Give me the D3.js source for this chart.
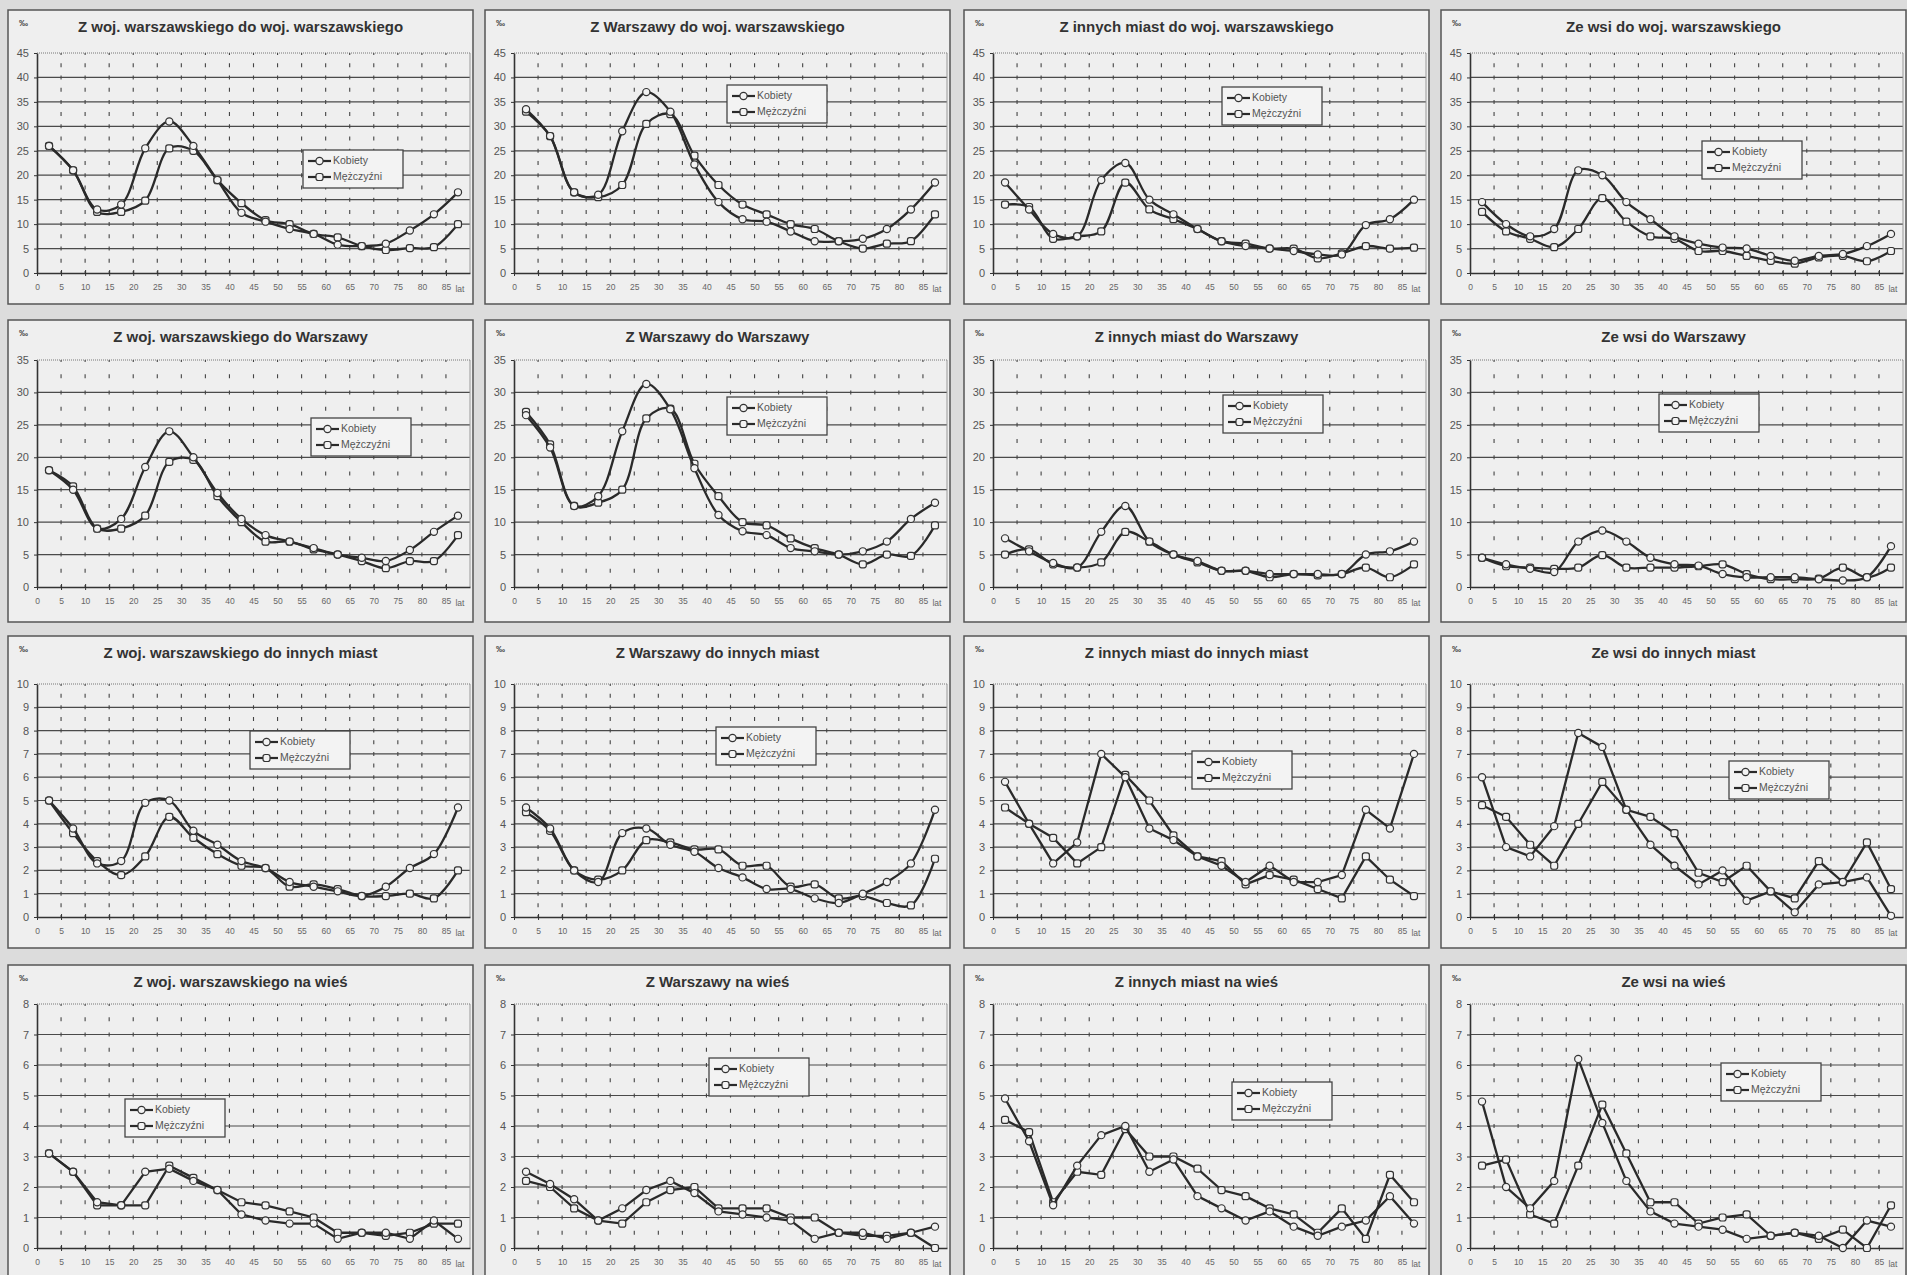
<!DOCTYPE html>
<html>
<head>
<meta charset="utf-8">
<script src="https://cdn.jsdelivr.net/npm/d3@7"></script>
<style>
  body { margin: 0; background: #dcdcdc; }
  svg { display: block; font-family: "Liberation Sans", Arial, sans-serif; }
</style>
</head>
<body>
<div id="chart"></div>
<script>
const ageLabels = ["0","5","10","15","20","25","30","35","40","45","50","55","60","65","70","75","80","85"];

const titles = [
  "Z woj. warszawskiego do woj. warszawskiego", "Z Warszawy do woj. warszawskiego",
  "Z innych miast do woj. warszawskiego", "Ze wsi do woj. warszawskiego",
  "Z woj. warszawskiego do Warszawy", "Z Warszawy do Warszawy",
  "Z innych miast do Warszawy", "Ze wsi do Warszawy",
  "Z woj. warszawskiego do innych miast", "Z Warszawy do innych miast",
  "Z innych miast do innych miast", "Ze wsi do innych miast",
  "Z woj. warszawskiego na wieś", "Z Warszawy na wieś",
  "Z innych miast na wieś", "Ze wsi na wieś"
];

const yMax  = [45, 45, 45, 45, 35, 35, 35, 35, 10, 10, 10, 10, 8, 8, 8, 8];
const yStep = [5, 5, 5, 5, 5, 5, 5, 5, 1, 1, 1, 1, 1, 1, 1, 1];

const kobiety = [
  [26, 21, 13, 14, 25.5, 31, 26, 19, 12.3, 10.5, 9, 8, 5.8, 5.5, 6, 8.7, 12, 16.5],
  [33.5, 28, 16.5, 16, 29, 37, 33, 22.2, 14.5, 11, 10.5, 8.5, 6.5, 6.5, 7, 9, 13, 18.5],
  [18.5, 13, 8, 7.5, 19, 22.5, 15, 12, 9, 6.5, 5.5, 5, 4.5, 3.8, 3.8, 9.8, 11, 15],
  [14.5, 10, 7.5, 9, 21, 20, 14.5, 11, 7.5, 6, 5.2, 5, 3.5, 2.5, 3.5, 3.9, 5.5, 8],
  [18, 15, 9, 10.5, 18.5, 24, 20, 14.5, 10.5, 8, 7, 6, 5, 4.5, 4, 5.7, 8.5, 11],
  [26.5, 21.5, 12.5, 14, 24, 31.3, 27.4, 18.3, 11.1, 8.6, 8, 6, 5.5, 5, 5.5, 7, 10.5, 13],
  [7.5, 5.5, 3.7, 3, 8.5, 12.5, 7, 5, 4, 2.5, 2.5, 2, 2, 2, 2, 5, 5.5, 7],
  [4.5, 3.5, 2.8, 2.3, 7, 8.7, 7, 4.5, 3.5, 3.3, 2, 1.5, 1.5, 1.5, 1.2, 1, 1.5, 6.3],
  [5.0, 3.8, 2.3, 2.4, 4.9, 5.0, 3.7, 3.1, 2.4, 2.1, 1.5, 1.3, 1.1, 0.9, 1.3, 2.1, 2.7, 4.7],
  [4.7, 3.8, 2.0, 1.5, 3.6, 3.8, 3.1, 2.8, 2.1, 1.7, 1.2, 1.2, 0.8, 0.6, 1.0, 1.5, 2.3, 4.6],
  [5.8, 4.0, 2.3, 3.2, 7.0, 6.0, 3.8, 3.3, 2.6, 2.2, 1.5, 2.2, 1.5, 1.5, 1.8, 4.6, 3.8, 7.0],
  [6.0, 3.0, 2.6, 3.9, 7.9, 7.3, 4.6, 3.1, 2.2, 1.4, 2.0, 0.7, 1.1, 0.2, 1.4, 1.5, 1.7, 0.05],
  [3.1, 2.5, 1.5, 1.4, 2.5, 2.6, 2.2, 1.9, 1.1, 0.9, 0.8, 0.8, 0.3, 0.5, 0.5, 0.3, 0.9, 0.3],
  [2.5, 2.1, 1.6, 0.9, 1.3, 1.9, 2.2, 1.8, 1.2, 1.1, 1.0, 0.9, 0.3, 0.5, 0.5, 0.3, 0.5, 0.7],
  [4.9, 3.5, 1.4, 2.7, 3.7, 4.0, 2.5, 2.9, 1.7, 1.3, 0.9, 1.2, 0.7, 0.4, 0.7, 0.9, 1.7, 0.8],
  [4.8, 2.0, 1.3, 2.2, 6.2, 4.1, 2.2, 1.2, 0.8, 0.7, 0.6, 0.3, 0.4, 0.5, 0.4, 0.0, 0.9, 0.7]
];

const mezczyzni = [
  [26, 21, 12.5, 12.5, 14.8, 25.5, 25, 19, 14.3, 10.8, 10, 8, 7.3, 5.5, 4.7, 5.1, 5.3, 10],
  [33, 28, 16.5, 15.5, 18, 30.5, 32.5, 24, 18, 14, 12, 10, 9, 6.5, 5, 6, 6.5, 12],
  [14, 13.5, 7, 7.5, 8.5, 18.5, 13, 11, 9, 6.5, 6, 5, 5, 3, 4, 5.5, 5, 5.2],
  [12.5, 8.5, 7, 5.3, 9, 15.3, 10.5, 7.5, 7, 4.5, 4.5, 3.5, 2.5, 1.9, 3.2, 3.5, 2.4, 4.5],
  [18, 15.5, 9, 9, 11, 19.3, 19.6, 14, 10, 7, 7, 5.8, 5, 4, 2.9, 4, 4, 8],
  [27, 22, 12.5, 13, 15, 26, 27.5, 19, 14, 10, 9.5, 7.5, 6, 5, 3.5, 5, 4.8, 9.5],
  [5, 5.8, 3.5, 3, 3.8, 8.5, 7, 5, 3.8, 2.5, 2.5, 1.5, 2, 1.8, 2, 3, 1.5, 3.5],
  [4.5, 3.2, 3, 2.8, 3, 4.9, 3, 3, 3, 3.2, 3.5, 2, 1.2, 1.2, 1.3, 3, 1.5, 3],
  [5.0, 3.6, 2.4, 1.8, 2.6, 4.3, 3.4, 2.7, 2.2, 2.1, 1.3, 1.4, 1.2, 0.9, 0.9, 1.0, 0.8, 2.0],
  [4.5, 3.7, 2.0, 1.6, 2.0, 3.3, 3.2, 2.9, 2.9, 2.2, 2.2, 1.3, 1.4, 0.8, 0.9, 0.6, 0.5, 2.5],
  [4.7, 4.0, 3.4, 2.3, 3.0, 6.1, 5.0, 3.5, 2.6, 2.4, 1.4, 1.8, 1.6, 1.2, 0.8, 2.6, 1.6, 0.9],
  [4.8, 4.3, 3.1, 2.2, 4.0, 5.8, 4.6, 4.3, 3.6, 1.9, 1.5, 2.2, 1.1, 0.8, 2.4, 1.5, 3.2, 1.2],
  [3.1, 2.5, 1.4, 1.4, 1.4, 2.7, 2.3, 1.9, 1.5, 1.4, 1.2, 1.0, 0.5, 0.5, 0.4, 0.5, 0.8, 0.8],
  [2.2, 2.0, 1.3, 0.9, 0.8, 1.5, 1.9, 2.0, 1.3, 1.3, 1.3, 1.0, 1.0, 0.5, 0.4, 0.4, 0.5, 0.0],
  [4.2, 3.8, 1.5, 2.5, 2.4, 3.9, 3.0, 3.0, 2.6, 1.9, 1.7, 1.3, 1.1, 0.5, 1.3, 0.3, 2.4, 1.5],
  [2.7, 2.9, 1.1, 0.8, 2.7, 4.7, 3.1, 1.5, 1.5, 0.8, 1.0, 1.1, 0.4, 0.5, 0.3, 0.6, 0.0, 1.4]
];

const seriesNames = ["Kobiety", "Mężczyźni"];

// layout of the 4x4 grid (page pixels)
const colX = [8, 485, 964, 1441];
const panelW = 465;
const rowY = [10, 320, 636, 965];
const rowH = [294, 302, 312, 325];
const plotTop = [43, 40, 48, 39];
const plotH = [220, 227, 233, 244];
const margin = {left: 29, right: 3};

// legend box offsets inside each panel
const legendPos = [
  [295, 140], [242, 75], [258, 77], [261, 131],
  [303, 98], [242, 77], [259, 75], [218, 74],
  [242, 95], [231, 91], [228, 115], [288, 125],
  [117, 134], [224, 93], [268, 117], [280, 98]
];
// rows 1-2 and first two of row 3 are drawn with smoothed lines
const smoothed = [1,1,1,1, 1,1,1,1, 1,1,0,0, 0,0,0,0];

const W = 1907, H = 1275;

const svg = d3.select("#chart").append("svg")
    .attr("width", W)
    .attr("height", H);

svg.append("rect")
    .attr("width", W).attr("height", H)
    .attr("fill", "#dcdcdc");

function drawMarker(g, kind, x, y) {
  if (kind == 0) {
    g.append("circle")
        .attr("cx", x).attr("cy", y).attr("r", 3.6)
        .attr("fill", "#f3f3f3").attr("stroke", "#333").attr("stroke-width", 1.2);
  } else {
    g.append("rect")
        .attr("x", x - 3.5).attr("y", y - 3.5)
        .attr("width", 7).attr("height", 7)
        .attr("rx", 2.2)
        .attr("fill", "#f3f3f3").attr("stroke", "#333").attr("stroke-width", 1.2);
  }
}

function drawPanel(p) {
  var r = Math.floor(p / 4), c = p % 4;
  var px = colX[c], py = rowY[r];

  var g = svg.append("g")
      .attr("transform", "translate(" + px + "," + py + ")");

  g.append("rect")
      .attr("width", panelW).attr("height", rowH[r])
      .attr("fill", "#efefef")
      .attr("stroke", "#555").attr("stroke-width", 1.5);

  var left = margin.left, right = panelW - margin.right;
  var top = plotTop[r], bottom = plotTop[r] + plotH[r];

  var x = d3.scaleLinear().domain([0, 18]).range([left, right]);
  var y = d3.scaleLinear().domain([0, yMax[p]]).range([bottom, top]);

  // title and unit
  g.append("text")
      .attr("x", panelW / 2).attr("y", 18)
      .attr("text-anchor", "middle")
      .attr("dominant-baseline", "middle")
      .attr("font-size", "15px").attr("font-weight", "bold")
      .attr("fill", "#333")
      .text(titles[p]);

  g.append("text")
      .attr("x", 11).attr("y", 16)
      .attr("font-size", "9px").attr("font-weight", "bold")
      .attr("fill", "#444")
      .text("‰");

  // horizontal grid lines at every major tick
  var majors = d3.range(yStep[p], yMax[p] + 0.001, yStep[p]);
  g.append("g").selectAll("line")
      .data(majors)
      .enter()
      .append("line")
      .attr("x1", left).attr("x2", right)
      .attr("y1", function(d) { return y(d); })
      .attr("y2", function(d) { return y(d); })
      .attr("stroke", function(d) { return d == yMax[p] ? "#777" : "#4a4a4a"; })
      .attr("stroke-width", function(d) { return d == yMax[p] ? 1 : 1.2; })
      .attr("stroke-dasharray", function(d) { return d == yMax[p] ? "1,1" : null; });

  // dotted vertical grid: short dashes at every half step
  var half = (y(0) - y(yStep[p] / 2));
  g.append("g").selectAll("line")
      .data(d3.range(1, 18))
      .enter()
      .append("line")
      .attr("x1", function(d) { return x(d); })
      .attr("x2", function(d) { return x(d); })
      .attr("y1", bottom).attr("y2", top)
      .attr("stroke", "#444").attr("stroke-width", 1.1)
      .attr("stroke-dasharray", "4," + (half - 4))
      .attr("stroke-dashoffset", 2);

  // right edge
  g.append("line")
      .attr("x1", right).attr("x2", right)
      .attr("y1", top).attr("y2", bottom)
      .attr("stroke", "#999").attr("stroke-width", 1);

  // axes
  var yAxis = d3.axisLeft(y).tickValues(d3.range(0, yMax[p] + 0.001, yStep[p]))
      .tickSize(3).tickSizeOuter(0).tickPadding(5);
  var ya = g.append("g")
      .attr("transform", "translate(" + left + ",0)")
      .call(yAxis);
  ya.select(".domain").attr("stroke", "#333").attr("stroke-width", 1.6);
  ya.selectAll(".tick line").attr("stroke", "#333");
  ya.selectAll("text").attr("font-size", "11px").attr("fill", "#555");

  var xAxis = d3.axisBottom(x).tickValues(d3.range(0, 18))
      .tickFormat(function(d) { return ageLabels[d]; })
      .tickSize(3).tickSizeOuter(0).tickPadding(8);
  var xa = g.append("g")
      .attr("transform", "translate(0," + bottom + ")")
      .call(xAxis);
  xa.select(".domain").attr("stroke", "#333").attr("stroke-width", 1.6);
  xa.selectAll(".tick line").attr("stroke", "#333").attr("y1", -3);
  xa.selectAll("text").attr("font-size", "8.5px").attr("fill", "#666");

  g.append("text")
      .attr("x", x(17) + 14).attr("y", bottom + 19)
      .attr("text-anchor", "middle")
      .attr("font-size", "8.5px").attr("fill", "#666")
      .text("lat");

  // series
  var line = d3.line()
      .x(function(d, i) { return x(i + 0.5); })
      .y(function(d) { return y(d); })
      .curve(smoothed[p] ? d3.curveCatmullRom.alpha(0.5) : d3.curveLinear);

  [mezczyzni[p], kobiety[p]].forEach(function(vals, k) {
    var kind = k == 0 ? 1 : 0;
    g.append("path")
        .attr("d", line(vals))
        .attr("fill", "none")
        .attr("stroke", "#2a2a2a")
        .attr("stroke-width", 2.3);
    vals.forEach(function(v, i) {
      drawMarker(g, kind, x(i + 0.5), y(v));
    });
  });

  // legend
  var lg = g.append("g")
      .attr("transform", "translate(" + legendPos[p][0] + "," + legendPos[p][1] + ")");
  lg.append("rect")
      .attr("width", 100).attr("height", 38)
      .attr("fill", "#f3f3f3")
      .attr("stroke", "#444").attr("stroke-width", 1.3);
  seriesNames.forEach(function(name, k) {
    var ly = 11 + k * 16;
    lg.append("line")
        .attr("x1", 5).attr("x2", 28)
        .attr("y1", ly).attr("y2", ly)
        .attr("stroke", "#2a2a2a").attr("stroke-width", 2.2);
    drawMarker(lg, k, 16.5, ly);
    lg.append("text")
        .attr("x", 30).attr("y", ly)
        .attr("dominant-baseline", "middle")
        .attr("font-size", "10.5px").attr("fill", "#555")
        .text(name);
  });
}

for (var p = 0; p < 16; p++) {
  drawPanel(p);
}
</script>
</body>
</html>
